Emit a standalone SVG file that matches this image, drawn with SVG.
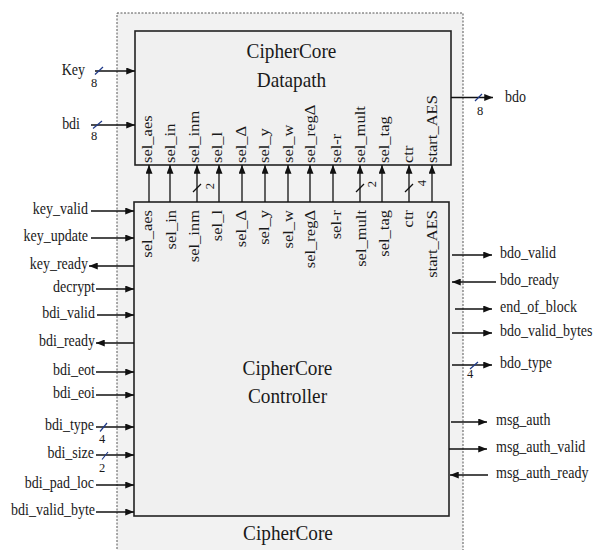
<svg xmlns="http://www.w3.org/2000/svg" width="596" height="550" viewBox="0 0 596 550" font-family="Liberation Serif, Times New Roman, serif">
<style>
text{font-family:"Liberation Serif","Times New Roman",serif;fill:#1a1a1a}
.sig{font-size:16px}
.vl{font-size:16.5px}
.ttl{font-size:22px}
.num{font-size:12.5px;fill:#333}
.w{stroke:#111;stroke-width:1.3;fill:none}
.bus{stroke:#1f3a8a;stroke-width:1.2}
.vbus{stroke:#111;stroke-width:1.2}
.box{fill:#f0f0f0;stroke:#222;stroke-width:1.6}
</style>
<defs>
<marker id="ah" viewBox="0 0 10 8" refX="10" refY="4" markerWidth="9" markerHeight="7" markerUnits="userSpaceOnUse" orient="auto"><path d="M0,0L10,4L0,8z" fill="#111"/></marker>
</defs>
<rect width="596" height="550" fill="#fff"/>
<g id="ciphercore">
<rect x="117" y="13" width="346" height="545" fill="#f2f2f2" stroke="#555" stroke-dasharray="2,1.5"/>
<text class="ttl" font-family="Liberation Serif, serif" transform="translate(288,540) scale(0.875,1)" text-anchor="middle">CipherCore</text>
</g>
<g id="datapath">
<rect class="box" x="135" y="31" width="316" height="134"/>
<text class="ttl" font-family="Liberation Serif, serif" transform="translate(291.5,58) scale(0.875,1)" text-anchor="middle">CipherCore</text>
<text class="ttl" font-family="Liberation Serif, serif" transform="translate(291.5,87) scale(0.875,1)" text-anchor="middle">Datapath</text>
<g class="vl" font-family="Liberation Serif, serif">
<text transform="translate(151.5,163) rotate(-90) scale(1,0.875)">sel_aes</text>
<text transform="translate(175,163) rotate(-90) scale(1,0.875)">sel_in</text>
<text transform="translate(199,163) rotate(-90) scale(1,0.875)">sel_inm</text>
<text transform="translate(221.5,163) rotate(-90) scale(1,0.875)">sel_l</text>
<text transform="translate(245.5,163) rotate(-90) scale(1,0.875)">sel_Δ</text>
<text transform="translate(268.5,163) rotate(-90) scale(1,0.875)">sel_y</text>
<text transform="translate(293,163) rotate(-90) scale(1,0.875)">sel_w</text>
<text transform="translate(315,163) rotate(-90) scale(1,0.875)">sel_regΔ</text>
<text transform="translate(340.5,163) rotate(-90) scale(1,0.875)">sel-r</text>
<text transform="translate(365,163) rotate(-90) scale(1,0.875)">sel_mult</text>
<text transform="translate(388.5,163) rotate(-90) scale(1,0.875)">sel_tag</text>
<text transform="translate(412.5,163) rotate(-90) scale(1,0.875)">ctr</text>
<text transform="translate(436.5,163) rotate(-90) scale(1,0.875)">start_AES</text>
</g>
</g>
<g id="controller">
<rect class="box" x="134" y="202" width="315" height="314"/>
<text class="ttl" font-family="Liberation Serif, serif" transform="translate(287.5,375) scale(0.875,1)" text-anchor="middle">CipherCore</text>
<text class="ttl" font-family="Liberation Serif, serif" transform="translate(287.5,403) scale(0.875,1)" text-anchor="middle">Controller</text>
<g class="vl" font-family="Liberation Serif, serif" text-anchor="end">
<text transform="translate(151.5,210) rotate(-90) scale(1,0.875)">sel_aes</text>
<text transform="translate(175.5,210) rotate(-90) scale(1,0.875)">sel_in</text>
<text transform="translate(198.5,210) rotate(-90) scale(1,0.875)">sel_inm</text>
<text transform="translate(221.5,210) rotate(-90) scale(1,0.875)">sel_l</text>
<text transform="translate(245.5,210) rotate(-90) scale(1,0.875)">sel_Δ</text>
<text transform="translate(269,210) rotate(-90) scale(1,0.875)">sel_y</text>
<text transform="translate(292.5,210) rotate(-90) scale(1,0.875)">sel_w</text>
<text transform="translate(315,210) rotate(-90) scale(1,0.875)">sel_regΔ</text>
<text transform="translate(340.5,210) rotate(-90) scale(1,0.875)">sel-r</text>
<text transform="translate(365.5,210) rotate(-90) scale(1,0.875)">sel_mult</text>
<text transform="translate(389,210) rotate(-90) scale(1,0.875)">sel_tag</text>
<text transform="translate(412.5,210) rotate(-90) scale(1,0.875)">ctr</text>
<text transform="translate(436.5,210) rotate(-90) scale(1,0.875)">start_AES</text>
</g>
</g>
<g id="connectors">
<g class="w" marker-end="url(#ah)">
<path d="M149,202V165"/><path d="M170,202V165"/><path d="M197,202V165"/><path d="M219,202V165"/>
<path d="M242,202V165"/><path d="M265,202V165"/><path d="M288,202V165"/><path d="M310,202V165"/>
<path d="M333,202V165"/><path d="M360,202V165"/><path d="M382,202V165"/><path d="M409,202V165"/>
<path d="M432,202V165"/>
<path d="M95,71H135"/><path d="M91,125H135"/><path d="M451,97.5H493"/>
<path d="M91,211H134"/><path d="M91,238H134"/><path d="M134,266H89"/><path d="M96,289H134"/>
<path d="M97,315H134"/><path d="M134,343H96"/><path d="M96,372H134"/><path d="M96,395H134"/>
<path d="M96,427H134"/><path d="M96,455H134"/><path d="M96,485H134"/><path d="M96,512H134"/>
<path d="M452,255H492"/><path d="M496,282H452"/><path d="M455,309H492"/><path d="M452,333H492"/>
<path d="M452,365H492"/><path d="M451,422H487"/><path d="M449,449H487"/><path d="M488,475H450"/>
</g>
<g class="vbus">
<path d="M193,192L201,184"/><path d="M356,192L364,184"/><path d="M405,192L413,184"/>
</g>
<g class="bus">
<path d="M95,74.5L103,67"/><path d="M93,128.5L102,121"/><path d="M475,101L482,94"/>
<path d="M100,431.5L107,423"/><path d="M102,459.5L108,452"/><path d="M470,369L478,362"/>
</g>
<g class="num" font-family="Liberation Serif, serif" text-anchor="middle">
<text x="94" y="87">8</text><text x="94" y="140">8</text><text x="480" y="115">8</text>
<text x="102" y="443">4</text><text x="102" y="472">2</text><text x="470" y="378">4</text>
<text transform="translate(213.5,186) rotate(-90)">2</text>
<text transform="translate(376,184) rotate(-90)">2</text>
<text transform="translate(426,183) rotate(-90)">4</text>
</g>
<g class="sig" font-family="Liberation Serif, serif" text-anchor="end">
<text transform="translate(85,75) scale(0.875,1)">Key</text>
<text transform="translate(80,129) scale(0.875,1)">bdi</text>
<text transform="translate(88,214) scale(0.875,1)">key_valid</text>
<text transform="translate(88,241) scale(0.875,1)">key_update</text>
<text transform="translate(88,269) scale(0.875,1)">key_ready</text>
<text transform="translate(95,292) scale(0.875,1)">decrypt</text>
<text transform="translate(95,318) scale(0.875,1)">bdi_valid</text>
<text transform="translate(95,346) scale(0.875,1)">bdi_ready</text>
<text transform="translate(95,375) scale(0.875,1)">bdi_eot</text>
<text transform="translate(95,398) scale(0.875,1)">bdi_eoi</text>
<text transform="translate(94,430) scale(0.875,1)">bdi_type</text>
<text transform="translate(94,458) scale(0.875,1)">bdi_size</text>
<text transform="translate(94,488) scale(0.875,1)">bdi_pad_loc</text>
<text transform="translate(95,515) scale(0.875,1)">bdi_valid_byte</text>
</g>
<g class="sig" font-family="Liberation Serif, serif">
<text transform="translate(505,102) scale(0.875,1)">bdo</text>
<text transform="translate(500,258) scale(0.875,1)">bdo_valid</text>
<text transform="translate(500,285) scale(0.875,1)">bdo_ready</text>
<text transform="translate(500,312) scale(0.875,1)">end_of_block</text>
<text transform="translate(500,336) scale(0.875,1)">bdo_valid_bytes</text>
<text transform="translate(500,368) scale(0.875,1)">bdo_type</text>
<text transform="translate(496,425) scale(0.875,1)">msg_auth</text>
<text transform="translate(496,452) scale(0.875,1)">msg_auth_valid</text>
<text transform="translate(496,478) scale(0.875,1)">msg_auth_ready</text>
</g>
</g>
</svg>
